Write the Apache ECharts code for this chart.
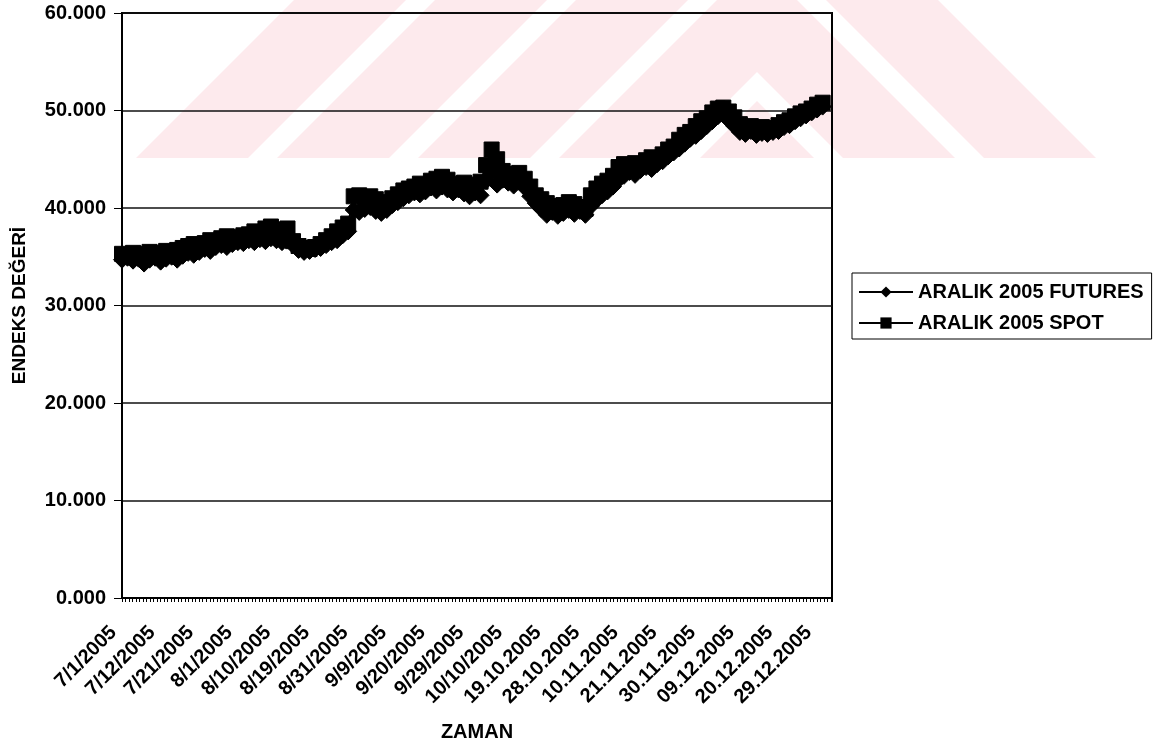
<!DOCTYPE html>
<html>
<head>
<meta charset="utf-8">
<script src="https://cdn.jsdelivr.net/npm/echarts@6/dist/echarts.min.js"></script>
<style>
  html, body { margin: 0; padding: 0; background: #ffffff; }
  #chart { width: 1165px; height: 749px; }
</style>
</head>
<body>
<div id="chart"></div>
<script>
// Trading-day index labels shown every 7 sessions
const tickLabels = ['7/1/2005', '7/12/2005', '7/21/2005', '8/1/2005', '8/10/2005', '8/19/2005',
  '8/31/2005', '9/9/2005', '9/20/2005', '9/29/2005', '10/10/2005', '19.10.2005', '28.10.2005',
  '10.11.2005', '21.11.2005', '30.11.2005', '09.12.2005', '20.12.2005', '29.12.2005'];

// ARALIK 2005 futures closing values, one per trading day (1 Jul - 30 Dec 2005)
const futures = [
  34700, 34900, 34600, 34800, 34300, 34700, 34900, 34500, 34800, 35000,
  34700, 35100, 35400, 35200, 35500, 35800, 35600, 36000, 36200, 36000,
  36300, 36500, 36400, 36700, 36500, 36800, 36600, 36900, 36700, 36500,
  36800, 36200, 35700, 35500, 35600, 35800, 35900, 36200, 36500, 36700,
  37200, 37600, 39800, 39600, 39900, 40100, 39700, 39500, 39800, 40300,
  40600, 41000, 41300, 41600, 41400, 41700, 42100, 41800, 42200, 41900,
  41600, 41900, 41500, 41200, 41600, 41300, 42800, 43700, 42400, 42900,
  42600, 42300, 42700, 42100, 41200, 40500, 39900, 39300, 39600, 39200,
  39500, 39800, 39400, 39700, 39300, 40200, 40800, 41300, 41700, 42200,
  42900, 43300, 43700, 43400, 43900, 44200, 44000, 44500, 44800, 45300,
  45700, 46100, 46600, 47100, 47400, 47900, 48400, 48900, 49400, 49600,
  49000, 48400, 47800, 47600, 47900, 47500, 47700, 47600, 47800, 47900,
  48300, 48500, 48900, 49200, 49500, 49800, 50100, 50400
];

// Spot index values for the same sessions
const spot = [
  35300, 35200, 35400, 35100, 35300, 35500, 35400, 35200, 35600, 35500,
  35700, 35900, 36100, 36300, 36000, 36400, 36700, 36500, 36900, 37100,
  36800, 37000, 37200, 37300, 37600, 37500, 37900, 38100, 37800, 37600,
  37900, 36600, 36100, 35900, 35800, 36000, 36300, 36700, 37100, 37600,
  38000, 38400, 41200, 41300, 41100, 41200, 40900, 40600, 40400, 41000,
  41400, 41800, 42000, 42200, 42500, 42300, 42800, 43000, 43200, 42900,
  42500, 42300, 42600, 42400, 42200, 42700, 44400, 46000, 45000, 43800,
  43500, 43300, 43600, 43000, 42200, 41300, 40900, 40500, 40200, 40000,
  40300, 40600, 40400, 40100, 39900, 41300, 42000, 42500, 42800, 43300,
  44200, 44500, 44300, 44600, 44400, 44900, 45200, 45000, 45500, 46000,
  46300, 47000, 47500, 47800, 48400, 48900, 49200, 49800, 50200, 50300,
  49900, 49300, 48600, 48200, 48400, 48000, 48300, 48100, 48200, 48500,
  48800, 49000, 49400, 49700, 49900, 50200, 50600, 50800
];

const LABEL_STEP = 7;
const FONT = 'Liberation Sans, Arial, sans-serif';

// Clip a convex polygon against a vertical line, keeping one side
function clipX(pts, xc, keepLeft) {
  const inside = p => keepLeft ? p[0] <= xc : p[0] >= xc;
  const out = [];
  for (let i = 0; i < pts.length; i++) {
    const a = pts[i], b = pts[(i + 1) % pts.length];
    const ia = inside(a), ib = inside(b);
    if (ia) out.push(a);
    if (ia !== ib) {
      const t = (xc - a[0]) / (b[0] - a[0]);
      out.push([xc, a[1] + t * (b[1] - a[1])]);
    }
  }
  return out;
}

// Faint diagonal stripe pattern in the page header band
const stripeEls = [];
const bandBottom = 158, ridge = 757, period = 141, pinkW = 112;
const stripeFill = '#fdeaed';
for (let k = 0; k < 5; k++) {
  const xb = 136 + k * period;
  const poly = [[xb, bandBottom], [xb + pinkW, bandBottom], [xb + pinkW + bandBottom, 0], [xb + bandBottom, 0]];
  const left = clipX(poly, ridge, true);
  if (left.length > 2) {
    stripeEls.push({ type: 'polygon', z: -10, silent: true, shape: { points: left }, style: { fill: stripeFill } });
  }
  if (k >= 2) {
    const mirrored = poly.map(p => [2 * ridge - p[0], p[1]]);
    const right = clipX(mirrored, ridge, false);
    if (right.length > 2) {
      stripeEls.push({ type: 'polygon', z: -10, silent: true, shape: { points: right }, style: { fill: stripeFill } });
    }
  }
}

const chart = echarts.init(document.getElementById('chart'), null, { renderer: 'canvas' });

chart.setOption({
  animation: false,
  backgroundColor: '#ffffff',
  graphic: stripeEls,
  grid: {
    left: 122, right: 333, top: 13, bottom: 151,
    show: true, borderColor: '#000', borderWidth: 2, backgroundColor: 'transparent'
  },
  legend: {
    orient: 'vertical',
    left: 852, top: 273,
    padding: [9, 8, 6, 6],
    itemGap: 11,
    itemWidth: 54, itemHeight: 14,
    borderColor: '#000', borderWidth: 1,
    textStyle: { fontFamily: FONT, fontWeight: 'bold', fontSize: 20, color: '#000' },
    data: ['ARALIK 2005 FUTURES', 'ARALIK 2005 SPOT']
  },
  xAxis: {
    type: 'value',
    min: 0, max: 128.7, interval: LABEL_STEP,
    name: 'ZAMAN', nameLocation: 'middle', nameGap: 124,
    nameTextStyle: { fontFamily: FONT, fontWeight: 'bold', fontSize: 20, color: '#000' },
    axisLine: { show: true, lineStyle: { color: '#000', width: 2 } },
    axisTick: { show: true, length: 4, lineStyle: { color: '#000', width: 1 } },
    minorTick: { show: true, splitNumber: 11, length: 4, lineStyle: { color: '#000', width: 1 } },
    splitLine: { show: false },
    axisLabel: {
      rotate: 45, margin: 23, padding: [0, 12, 0, 0],
      fontFamily: FONT, fontWeight: 'bold', fontSize: 20, color: '#000',
      showMaxLabel: false,
      formatter: v => tickLabels[Math.round(v / LABEL_STEP)] || ''
    }
  },
  yAxis: {
    type: 'value',
    min: 0, max: 60000, interval: 10000,
    name: 'ENDEKS DEĞERİ', nameLocation: 'middle', nameRotate: 90, nameGap: 93,
    nameTextStyle: { fontFamily: FONT, fontWeight: 'bold', fontSize: 19, color: '#000' },
    axisLine: { show: true, lineStyle: { color: '#000', width: 2 } },
    axisTick: { show: true, length: 8, lineStyle: { color: '#000', width: 1 } },
    splitLine: { show: true, lineStyle: { color: '#111', width: 1.5 } },
    axisLabel: {
      margin: 16,
      fontFamily: FONT, fontWeight: 'bold', fontSize: 20, color: '#000',
      formatter: v => (v / 1000).toFixed(3)
    }
  },
  series: [
    {
      name: 'ARALIK 2005 FUTURES',
      type: 'line',
      data: futures.map((v, i) => [i, v]),
      symbol: 'diamond', symbolSize: 17, showAllSymbol: true,
      lineStyle: { color: '#000', width: 2 },
      itemStyle: { color: '#000', borderColor: '#000' }
    },
    {
      name: 'ARALIK 2005 SPOT',
      type: 'line',
      data: spot.map((v, i) => [i, v]),
      symbol: 'rect', symbolSize: 15, showAllSymbol: true,
      lineStyle: { color: '#000', width: 2 },
      itemStyle: { color: '#000', borderColor: '#000' }
    }
  ]
});
</script>
</body>
</html>
